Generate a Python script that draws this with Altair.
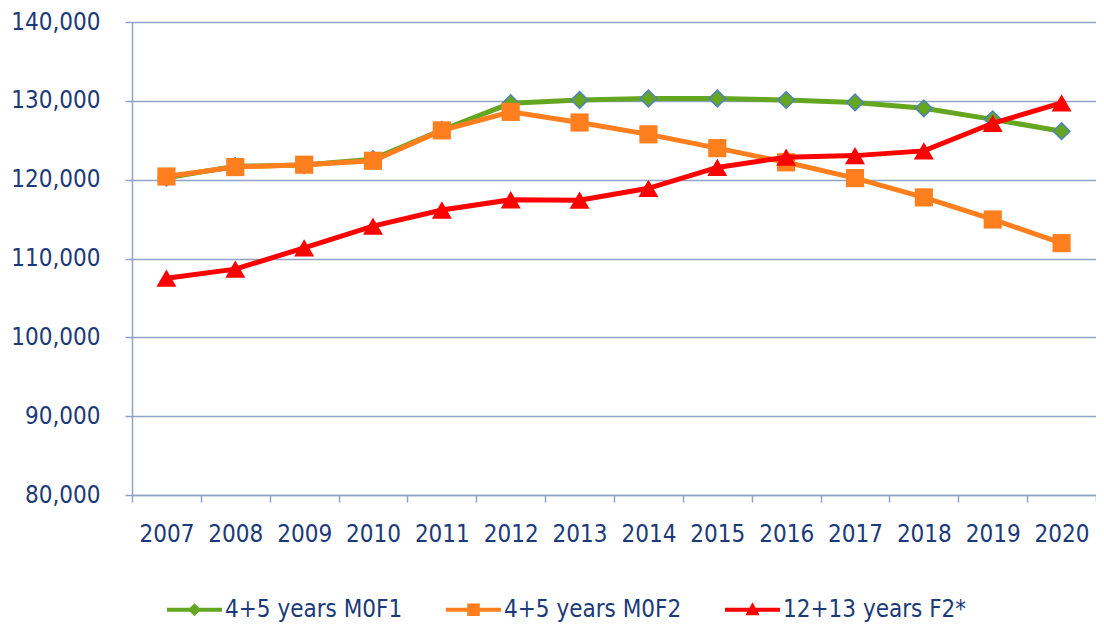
import altair as alt
import pandas as pd

years = [2007, 2008, 2009, 2010, 2011, 2012, 2013, 2014, 2015, 2016, 2017, 2018, 2019, 2020]
series_names = ["4+5 years M0F1", "4+5 years M0F2", "12+13 years F2*"]
m0f1 = [120250, 121700, 121850, 122600, 126300, 129700, 130100, 130300, 130300, 130100, 129800, 129050, 127650, 126150]
m0f2 = [120400, 121600, 121900, 122400, 126250, 128600, 127250, 125750, 124000, 122200, 120200, 117750, 114950, 111950]
f2 = [107500, 108650, 111350, 114100, 116150, 117450, 117400, 118900, 121550, 122850, 123050, 123650, 127150, 129750]
y_ticks = [80000, 90000, 100000, 110000, 120000, 130000, 140000]

colors = ["#64a620", "#ff7f1f", "#ff0000"]
diamond_stroke = "#4f81bd"
grid_col = "#8fa3c7"
text_col = "#1c3a78"
font = "DejaVu Sans Condensed"

rows = []
for name, vals in zip(series_names, [m0f1, m0f2, f2]):
    for yr, v in zip(years, vals):
        rows.append({"year": str(yr), "series": name, "value": v})
df = pd.DataFrame(rows)

x_enc = alt.X(
    "year:O",
    bandPosition=0.5,
    scale=alt.Scale(type="band", paddingInner=0, paddingOuter=0),
    axis=alt.Axis(
        title=None, labelAngle=0, tickBand="extent", grid=False,
        domainColor=grid_col, domainWidth=1.5, tickColor=grid_col, tickWidth=1.5,
        tickSize=7, labelPadding=20, labelFontSize=24, labelColor=text_col,
        labelFont=font,
    ),
)
y_enc = alt.Y(
    "value:Q",
    scale=alt.Scale(domain=[80000, 140000], nice=False, zero=False),
    axis=alt.Axis(
        title=None, values=y_ticks, format=",.0f", grid=True, gridColor=grid_col,
        gridWidth=1.5, domainColor=grid_col, domainWidth=1.5, tickColor=grid_col,
        tickWidth=1.5, tickSize=7, labelPadding=25, labelFontSize=24,
        labelColor=text_col, labelFont=font,
    ),
)

color_scale = alt.Scale(domain=series_names, range=colors)
legend_paths = [
    "M-1,-0.075H1V0.075H-1Z M0,-0.24L0.24,0L0,0.24L-0.24,0Z",
    "M-1,-0.075H1V0.075H-1Z M-0.23,-0.23H0.23V0.23H-0.23Z",
    "M-1,-0.075H1V0.075H-1Z M0,-0.27L0.26,0.2H-0.26Z",
]
legend_def = alt.Legend(
    title=None, orient="none", legendX=35, legendY=560, direction="horizontal",
    labelFontSize=24, labelColor=text_col, labelFont=font, symbolSize=3025,
    symbolStrokeWidth=0, columnPadding=43, labelOffset=3, symbolOpacity=1,
    labelLimit=400,
)

base = alt.Chart(df)
layers = []
markers = [
    dict(shape="diamond", size=280, fill=colors[0], stroke=diamond_stroke, strokeWidth=1.5),
    dict(shape="square", size=330, fill=colors[1], strokeWidth=0),
    dict(shape="triangle-up", size=400, fill=colors[2], strokeWidth=0),
]
for name, col, mk in zip(series_names, colors, markers):
    sub = base.transform_filter(alt.datum.series == name)
    layers.append(
        sub.mark_line(strokeWidth=5, color=col).encode(x=x_enc, y=y_enc)
    )
    layers.append(
        sub.mark_point(filled=True, opacity=1, **mk).encode(x=x_enc, y=y_enc)
    )

legend_layer = base.transform_filter("datum.value < 0").mark_point(
    filled=True, opacity=1, strokeWidth=0
).encode(
    x=x_enc,
    y=y_enc,
    color=alt.Color("series:N", scale=color_scale, legend=legend_def),
    shape=alt.Shape("series:N", scale=alt.Scale(domain=series_names, range=legend_paths), legend=legend_def),
)
layers.append(legend_layer)

chart = alt.layer(*layers).properties(
    width=964,
    height=473,
    autosize=alt.AutoSizeParams(type="none"),
    padding={"left": 124, "top": 14, "right": 0, "bottom": 127},
).configure_view(strokeWidth=0).configure(background="white")

chart.save("out.html", embed_options={"renderer": "svg", "actions": False})
